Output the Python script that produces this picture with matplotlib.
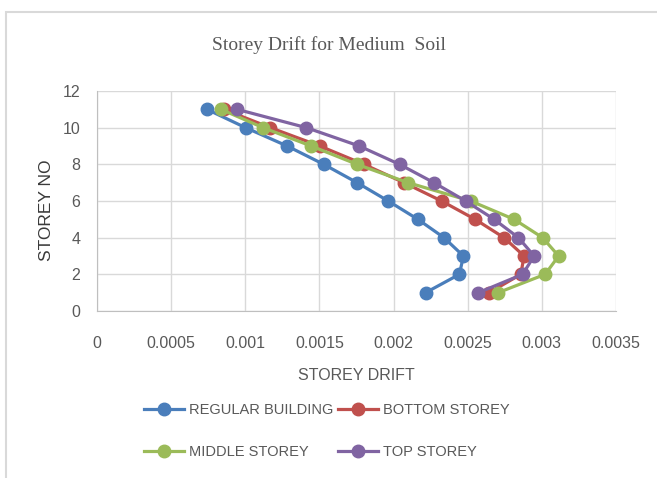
import matplotlib
matplotlib.use('agg')
import matplotlib.pyplot as plt
from matplotlib.patches import Rectangle

# data
storey = [11, 10, 9, 8, 7, 6, 5, 4, 3, 2, 1]
regular = [0.000741, 0.001002, 0.001282, 0.001529, 0.001754, 0.001964,
           0.002164, 0.002340, 0.002471, 0.002444, 0.002216]
bottom = [0.000854, 0.001169, 0.001502, 0.001800, 0.002070, 0.002324,
          0.002550, 0.002745, 0.002880, 0.002858, 0.002644]
middle = [0.000836, 0.001120, 0.001444, 0.001754, 0.002097, 0.002520,
          0.002813, 0.003005, 0.003113, 0.003022, 0.002705]
top = [0.000944, 0.001412, 0.001768, 0.002040, 0.002272, 0.002486,
       0.002678, 0.002842, 0.002948, 0.002870, 0.002572]

series_names = ['REGULAR BUILDING', 'BOTTOM STOREY', 'MIDDLE STOREY', 'TOP STOREY']
series_colors = ['#4A7EBB', '#C0504D', '#9BBB59', '#8064A2']

x_ticks = [0, 0.0005, 0.001, 0.0015, 0.002, 0.0025, 0.003, 0.0035]
x_tick_labels = ['0', '0.0005', '0.001', '0.0015', '0.002', '0.0025', '0.003', '0.0035']
y_ticks = [0, 2, 4, 6, 8, 10, 12]

plt.rcParams['font.family'] = ['Liberation Sans', 'DejaVu Sans']
txt = '#595959'

fig = plt.figure(figsize=(6.57, 4.78), dpi=100)
ax = fig.add_axes([97/657, 1-311/478, (616-97)/657, (311-91)/478])

# chart border (cropped on right / bottom)
fig.patches.append(Rectangle((6/657, -0.1), 1.1, 1 - 12/478 + 0.1,
                             transform=fig.transFigure, fill=False,
                             edgecolor='#D9D9D9', linewidth=1.5))

lines = []
for vals, name, col in zip([regular, bottom, middle, top], series_names, series_colors):
    ln, = ax.plot(vals, storey, color=col, linewidth=2.3, marker='o',
                  markersize=9, label=name)
    lines.append(ln)

ax.set_xlim(0, 0.0035)
ax.set_ylim(0, 12)
ax.set_xticks(x_ticks)
ax.set_xticklabels(x_tick_labels)
ax.set_yticks(y_ticks)
ax.grid(True, color='#D9D9D9', linewidth=1)
ax.set_axisbelow(True)
for s in ['top', 'right']:
    ax.spines[s].set_visible(False)
for s in ['left', 'bottom']:
    ax.spines[s].set_color('#BFBFBF')
ax.tick_params(length=0, labelsize=11.5, colors=txt)
ax.tick_params(axis='y', pad=12)
ax.tick_params(axis='x', pad=18)

ax.set_xlabel('STOREY DRIFT', fontsize=11.5, color=txt, labelpad=12)
ax.set_ylabel('STOREY NO', fontsize=12.5, color='#3A3A3A')
ax.yaxis.set_label_coords(-0.082, 0.46)
fig.text(0.5, 1 - 45/478, 'Storey Drift for Medium  Soil', ha='center', va='center',
         fontsize=14, color=txt, family='Liberation Serif')

# row-wise legend order (matplotlib fills columns first)
order = [0, 2, 1, 3]
leg = fig.legend([lines[i] for i in order], [series_names[i] for i in order],
                 loc='center', bbox_to_anchor=(0.497, 1 - 431/478), ncol=2,
                 frameon=False, fontsize=10.5, labelspacing=1.9,
                 handlelength=2.8, handletextpad=0.3, columnspacing=0.3)
for t in leg.get_texts():
    t.set_color(txt)

fig.savefig('out.png', dpi=100)
